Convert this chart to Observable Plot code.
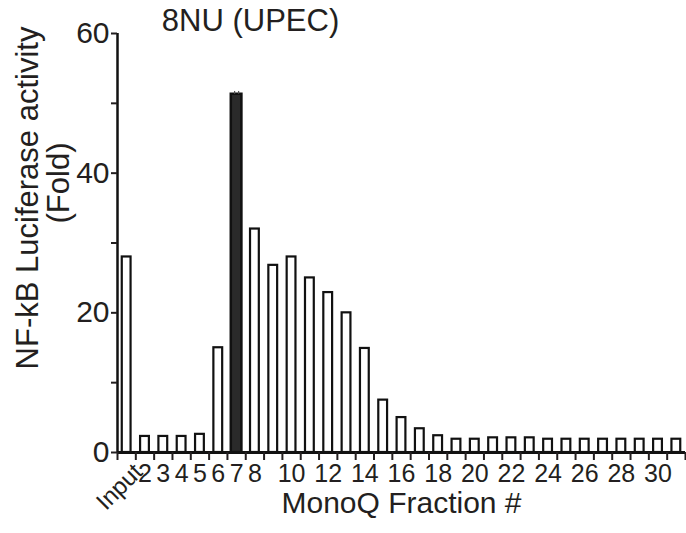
<!DOCTYPE html>
<html><head><meta charset="utf-8">
<script src="https://cdn.jsdelivr.net/npm/d3@7"></script>
<script src="https://cdn.jsdelivr.net/npm/@observablehq/plot@0.6"></script>
<style>body{margin:0;background:#fff}svg{display:block}</style>
</head><body><div id="chart"></div>
<script>
const categories = ["Input","2","3","4","5","6","7","8","9","10","11","12","13","14","15","16","17","18","19","20","21","22","23","24","25","26","27","28","29","30","31"];
const values = [28, 2.3, 2.3, 2.3, 2.6, 15, 51.3, 32, 26.8, 28, 25, 22.9, 20, 14.9, 7.5, 5.0, 3.4, 2.4, 1.9, 1.9, 2.1, 2.1, 2.1, 1.9, 1.9, 1.9, 1.9, 1.9, 1.9, 1.9, 1.9];
const highlighted = ["7"];
const errors = {"7": 0.4};
const xTickLabels = ["2","3","4","5","6","7","8","10","12","14","16","18","20","22","24","26","28","30"];
const yMajor = [0, 20, 40, 60];
const yMinor = [10, 30, 50];
const title = "8NU (UPEC)";
const xTitle = "MonoQ Fraction #";
const yTitle1 = "NF-kB Luciferase activity";
const yTitle2 = "(Fold)";

const data = categories.map((c, i) => ({c, i, v: values[i], hl: highlighted.includes(c)}));
const boundaries = d3.range(-0.5, categories.length, 1);
const font = "'Liberation Sans', Arial, Helvetica, sans-serif";

const chart = Plot.plot({
  width: 686, height: 533,
  marginLeft: 117, marginRight: 1, marginTop: 33, marginBottom: 81,
  style: {fontFamily: font, background: "white", color: "#231f20"},
  x: {type: "linear", domain: [-0.5, categories.length - 0.5], axis: null},
  y: {domain: [0, 60], axis: null},
  marks: [
    Plot.rect(data.filter(d => !d.hl), {x1: d => d.i - 0.24, x2: d => d.i + 0.24, y1: 0, y2: "v", fill: "white", stroke: "#111", strokeWidth: 2.2}),
    Plot.rect(data.filter(d => d.hl), {x1: d => d.i - 0.29, x2: d => d.i + 0.29, y1: 0, y2: "v", fill: "#2a2a2a", stroke: "#111", strokeWidth: 2.5}),
    Plot.ruleX(data.filter(d => errors[d.c]), {x: "i", y1: "v", y2: d => d.v + errors[d.c], stroke: "#555", strokeWidth: 1.2, dx: -2}),
    Plot.ruleX(data.filter(d => errors[d.c]), {x: "i", y1: "v", y2: d => d.v + errors[d.c], stroke: "#555", strokeWidth: 1.2, dx: 2}),
    Plot.ruleX([-0.5], {y1: 0, y2: 60, stroke: "#111", strokeWidth: 2.5}),
    Plot.ruleY([0], {stroke: "#111", strokeWidth: 3}),
    Plot.axisY({ticks: yMajor, tickSize: 6, tickPadding: 2, fontSize: 30, label: null, strokeWidth: 2, color: "#231f20"}),
    Plot.axisY({ticks: yMinor, tickSize: 6, tickFormat: () => "", label: null, strokeWidth: 2}),
    Plot.axisX({ticks: boundaries, tickSize: 8, tickFormat: () => "", label: null, strokeWidth: 2}),
    Plot.text(xTickLabels, {x: d => categories.indexOf(d), frameAnchor: "bottom", dy: 21, fontSize: 25, textAnchor: "middle", lineAnchor: "middle", fill: "#231f20"}),
    Plot.text(["Input"], {x: d => categories.indexOf(d), frameAnchor: "bottom", dx: 5, dy: 9, rotate: -45, textAnchor: "end", lineAnchor: "top", fontSize: 24, fill: "#231f20"}),
    Plot.text([xTitle], {frameAnchor: "bottom", dy: 51, fontSize: 30, lineAnchor: "middle", fill: "#231f20"}),
    Plot.text([title], {frameAnchor: "top-left", dx: 133, dy: -12, fontSize: 31, textAnchor: "middle", lineAnchor: "middle", fill: "#231f20"}),
    Plot.text([yTitle1], {frameAnchor: "left", dx: -89, dy: -45, rotate: -90, fontSize: 31, textAnchor: "middle", lineAnchor: "middle", fill: "#231f20"}),
    Plot.text([yTitle2], {frameAnchor: "left", dx: -58, dy: -60, rotate: -90, fontSize: 31, textAnchor: "middle", lineAnchor: "middle", fill: "#231f20"})
  ]
});
document.getElementById("chart").appendChild(chart);
</script>
</body></html>
